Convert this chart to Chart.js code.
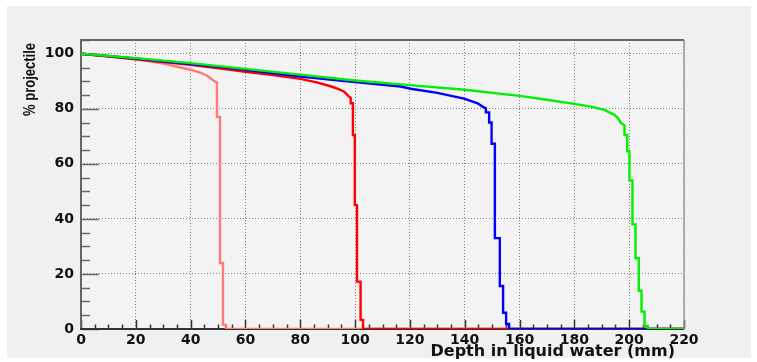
<!DOCTYPE html>
<html>
<head>
<meta charset="utf-8">
<script src="https://cdn.jsdelivr.net/npm/chart.js@4"></script>
<style>
  html, body { margin: 0; padding: 0; background: #ffffff; }
  #wrap { width: 757px; height: 362px; position: relative; }
</style>
</head>
<body>
<div id="wrap"><canvas id="depthChart" width="757" height="362"></canvas></div>
<script>
// surviving projectile fraction vs depth, one curve per beam range
const xTickLabels = [0, 20, 40, 60, 80, 100, 120, 140, 160, 180, 200, 220];
const yTickLabels = [0, 20, 40, 60, 80, 100];

const depth50 = [0, 10, 20, 30, 40, 44, 46, 47, 48, 49, 49.6, 49.6, 50.7, 50.7, 51.8, 51.8, 52.9, 52.9, 220];
const pct50   = [100, 99.2, 98.1, 96.4, 94.2, 93.0, 92.0, 91.3, 90.5, 89.8, 89.6, 77, 77, 24, 24, 1.5, 1.5, 0, 0];

const depth100 = [0, 20, 40, 54.5, 60, 70, 80, 86, 91, 94, 96, 97.6, 98.4, 98.4, 99.2, 99.2, 99.9, 99.9, 100.7, 100.7, 102, 102, 102.9, 102.9, 220];
const pct100   = [100, 98.0, 96.0, 94.2, 93.4, 92.3, 90.9, 89.6, 88.2, 87.2, 86.2, 84.6, 84, 82, 82, 70.5, 70.5, 45, 45, 17.2, 17.2, 3.3, 3.3, 0, 0];

const depth150 = [0, 20, 40, 54.5, 80, 98, 116.6, 120.3, 130, 139.8, 144.7, 146.5, 147.7, 147.7, 148.9, 148.9, 149.8, 149.8, 151, 151, 152.8, 152.8, 154, 154, 155.1, 155.1, 156.2, 156.2, 220];
const pct150   = [100, 98.3, 96.3, 94.8, 91.7, 89.9, 88.1, 87.3, 85.8, 83.7, 82, 80.8, 80.2, 78.7, 78.7, 75, 75, 67.3, 67.3, 33, 33, 15.6, 15.6, 5.9, 5.9, 1.8, 1.8, 0, 0];

const depth200 = [0, 20, 40, 60, 80, 100, 120, 140, 160, 170, 180, 186, 191, 194.6, 196, 197, 198.3, 198.3, 199.3, 199.3, 200.1, 200.1, 201.2, 201.2, 202.3, 202.3, 203.5, 203.5, 204.5, 204.5, 205.6, 205.6, 206.8, 206.8, 220];
const pct200   = [100, 98.4, 96.6, 94.5, 92.4, 90.3, 88.6, 86.9, 84.7, 83.3, 81.8, 80.8, 79.6, 77.8, 76.6, 74.8, 74, 70.5, 70.5, 64.6, 64.6, 54, 54, 38, 38, 25.7, 25.7, 13.9, 13.9, 6.3, 6.3, 1.1, 1.1, 0, 0];

const xTitle = 'Depth in liquid water (mm)';
const yTitle = '% projectile';

function toPoints(xs, ys) {
    return xs.map((x, i) => ({ x: x, y: ys[i] }));
}

function curve(xs, ys, color, order) {
    return {
        data: toPoints(xs, ys),
        borderColor: color,
        borderWidth: 2.4,
        pointRadius: 0,
        fill: false,
        tension: 0,
        order: order
    };
}

// ROOT-like frame: grey pad, ticks drawn inside the frame, axis titles at the ends
const rootFrame = {
    id: 'rootFrame',
    beforeDraw(chart) {
        const ctx = chart.ctx;
        const a = chart.chartArea;
        ctx.save();
        ctx.fillStyle = '#ffffff';
        ctx.fillRect(0, 0, chart.width, chart.height);
        ctx.fillStyle = '#f0f0f0';
        ctx.fillRect(7, 6, 744, 352);
        ctx.fillStyle = '#f3f3f3';
        ctx.fillRect(a.left, a.top, a.right - a.left, a.bottom - a.top);
        ctx.restore();
    },
    beforeDatasetsDraw(chart) {
        const ctx = chart.ctx;
        const a = chart.chartArea;
        const xs = chart.scales.x;
        const ys = chart.scales.y;
        ctx.save();
        ctx.lineWidth = 1.5;

        // y ticks: major every 20, minor every 5
        ctx.strokeStyle = '#6a6a6a';
        for (let v = ys.min; v <= ys.max; v += 5) {
            const py = Math.round(ys.getPixelForValue(v)) + 0.5;
            const len = v % 20 === 0 ? 18 : 9;
            ctx.beginPath();
            ctx.moveTo(a.left, py);
            ctx.lineTo(a.left + len, py);
            ctx.stroke();
        }
        // x ticks
        ctx.strokeStyle = '#333333';
        for (let d = xs.min; d <= xs.max; d += 5) {
            const px = Math.round(xs.getPixelForValue(d)) + 0.5;
            const len = d % 20 === 0 ? 9 : 4.5;
            ctx.beginPath();
            ctx.moveTo(px, a.bottom);
            ctx.lineTo(px, a.bottom - len);
            ctx.stroke();
        }

        // frame
        ctx.lineWidth = 2;
        ctx.strokeStyle = '#666666';
        ctx.beginPath();
        ctx.moveTo(a.left, a.bottom);
        ctx.lineTo(a.left, a.top);
        ctx.lineTo(a.right, a.top);
        ctx.stroke();
        ctx.strokeStyle = '#999999';
        ctx.lineWidth = 1.5;
        ctx.beginPath();
        ctx.moveTo(a.right, a.top);
        ctx.lineTo(a.right, a.bottom);
        ctx.stroke();
        ctx.strokeStyle = '#333333';
        ctx.lineWidth = 2;
        ctx.beginPath();
        ctx.moveTo(a.left - 1, a.bottom);
        ctx.lineTo(a.right, a.bottom);
        ctx.stroke();
        ctx.restore();
    },
    afterDraw(chart) {
        const ctx = chart.ctx;
        const a = chart.chartArea;
        ctx.save();
        ctx.fillStyle = '#111111';
        ctx.font = 'bold 16px "DejaVu Sans"';
        ctx.textAlign = 'right';
        ctx.textBaseline = 'middle';
        ctx.fillText(xTitle, a.right - 9, 352);

        // rotated title, widened across the glyphs
        ctx.font = 'bold 13px "Liberation Sans"';
        ctx.translate(30, a.top + 3);
        ctx.scale(1.3, 1);
        ctx.rotate(-Math.PI / 2);
        ctx.textAlign = 'right';
        ctx.fillText(yTitle, 0, 0);
        ctx.restore();
    }
};

const tickFont = { family: '"DejaVu Sans"', size: 14, weight: 'bold' };

new Chart(document.getElementById('depthChart'), {
    type: 'line',
    data: {
        datasets: [
            curve(depth200, pct200, '#00f000', 0),
            curve(depth150, pct150, '#0000ff', 1),
            curve(depth100, pct100, '#ff0000', 2),
            curve(depth50, pct50, '#ff7a7a', 3)
        ]
    },
    options: {
        responsive: false,
        animation: false,
        layout: { padding: { left: 0, top: 40, right: 73, bottom: 0 } },
        plugins: {
            legend: { display: false },
            tooltip: { enabled: false }
        },
        scales: {
            x: {
                type: 'linear',
                min: 0,
                max: 220,
                afterFit: s => { s.height = 33; },
                afterBuildTicks: s => { s.ticks = xTickLabels.map(v => ({ value: v })); },
                ticks: {
                    font: tickFont,
                    color: '#111111',
                    padding: 3,
                    maxRotation: 0,
                    autoSkip: false
                },
                grid: { color: '#808080', lineWidth: 1, drawTicks: false },
                border: { display: false, dash: [1, 2] }
            },
            y: {
                type: 'linear',
                min: 0,
                max: 105,
                afterFit: s => { s.width = 81; },
                afterBuildTicks: s => { s.ticks = yTickLabels.map(v => ({ value: v })); },
                ticks: {
                    font: tickFont,
                    color: '#111111',
                    padding: 7
                },
                grid: { color: '#808080', lineWidth: 1, drawTicks: false },
                border: { display: false, dash: [1, 2] }
            }
        }
    },
    plugins: [rootFrame]
});
</script>
</body>
</html>
